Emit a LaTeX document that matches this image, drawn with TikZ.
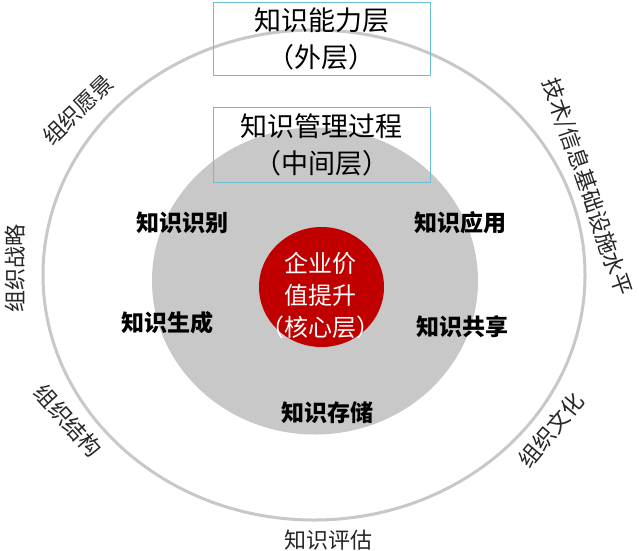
\documentclass[tikz,border=0pt]{standalone}
\usepackage{fontspec}
\usetikzlibrary{shapes.geometric}
\newfontfamily\cjk{Noto Sans CJK SC}
\definecolor{ringgray}{HTML}{C8C8C8}
\definecolor{discgray}{HTML}{C8C8C8}
\definecolor{corered}{HTML}{C00000}
\definecolor{boxblue}{HTML}{6BBED3}
\begin{document}
\begin{tikzpicture}[x=1pt,y=-1pt]
\tikzset{
  ring/.style={ellipse, draw=ringgray, line width=3pt, inner sep=0pt},
  disc/.style={ellipse, fill=discgray, inner sep=0pt},
  core/.style={ellipse, fill=corered, inner sep=0pt},
  layerbox/.style={draw=boxblue, line width=1pt, minimum width=217pt, inner sep=0pt, align=center,
    font=\cjk\fontsize{27}{37}\selectfont},
  corelabel/.style={align=center, text=white, inner sep=0pt, font=\cjk\fontsize{24}{32}\selectfont},
  midlabel/.style={inner sep=0pt, font=\cjk\bfseries\fontsize{23}{27}\selectfont},
  outerlabel/.style={inner sep=0pt, text=black!85, font=\cjk\fontsize{22}{26}\selectfont}
}
\useasboundingbox (0,0) rectangle (639,550);
\fill[white] (0,0) rectangle (639,550);

% rings
\node[ring, minimum width=542pt, minimum height=490pt] (outer) at (314,275) {};
\node[disc, minimum width=326pt, minimum height=307pt] (middle) at (315,281) {};
\node[core, minimum width=125pt, minimum height=120pt] (corecircle) at (321.5,287) {};

% boxes
\node[layerbox, minimum height=73pt] (box1) at (321.5,38.5) {知识能力层\\（外层）};
\node[layerbox, minimum height=75pt] (box2) at (321.5,144.5) {知识管理过程\\（中间层）};

% core text
\node[corelabel] (coretext) at (320,295) {企业价\\值提升\\（核心层）};

% middle labels
\node[midlabel] (recog) at (182,223) {知识识别};
\node[midlabel] (gen) at (167,323) {知识生成};
\node[midlabel] (apply) at (460,223) {知识应用};
\node[midlabel] (share) at (462,327) {知识共享};
\node[midlabel] (store) at (327,413) {知识存储};

% outer labels
\node[outerlabel, rotate=44] (vision) at (78,110) {组织愿景};
\node[outerlabel, rotate=90] (strategy) at (15,268) {组织战略};
\node[outerlabel, rotate=-48] (structure) at (68,421) {组织结构};
\node[outerlabel, rotate=-71] (infra) at (587,187) {技术/信息基础设施水平};
\node[outerlabel, rotate=50] (culture) at (551,430) {组织文化};
\node[outerlabel] (assess) at (328,540) {知识评估};
\end{tikzpicture}
\end{document}
